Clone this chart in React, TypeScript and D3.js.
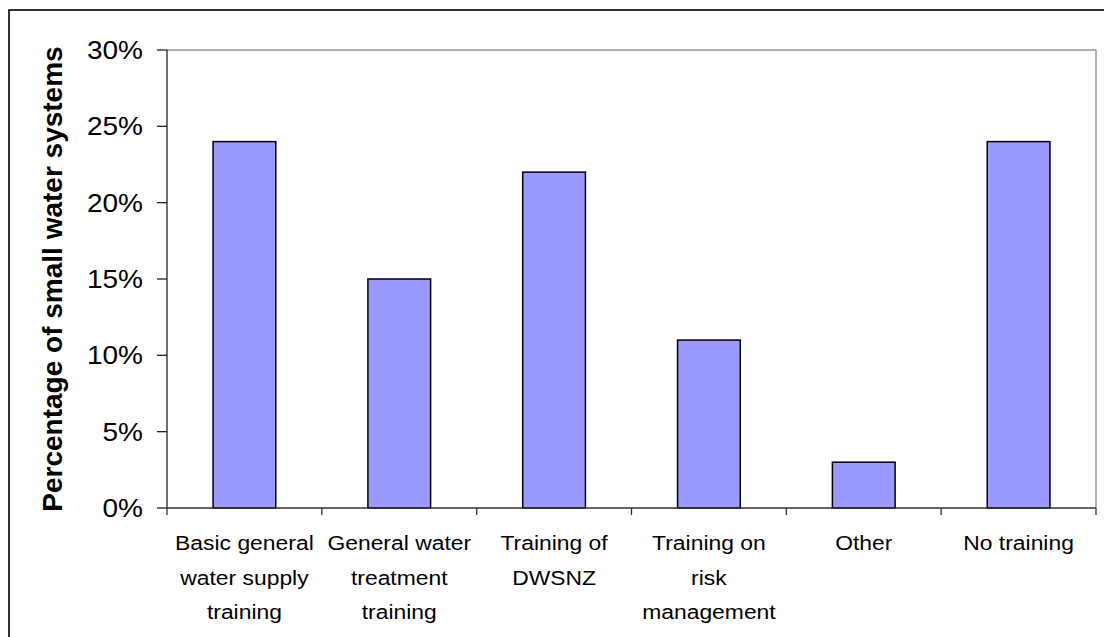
import React from "react";
import * as d3 from "d3";

const categories: string[][] = [
  ["Basic general", "water supply", "training"],
  ["General water", "treatment", "training"],
  ["Training of", "DWSNZ"],
  ["Training on", "risk", "management"],
  ["Other"],
  ["No training"],
];
const values: number[] = [24, 15, 22, 11, 3, 24];
const yTicks: number[] = [0, 5, 10, 15, 20, 25, 30];
const yTitle = "Percentage of small water systems";

const W = 1104;
const H = 637;
const plot = { left: 167, right: 1096, top: 50, bottom: 508 };

export default function App() {
  const keys = categories.map((_, i) => String(i));
  const x = d3.scaleBand<string>().domain(keys).range([plot.left, plot.right]).paddingInner(0).paddingOuter(0);
  const y = d3.scaleLinear().domain([0, 30]).range([plot.bottom, plot.top]);
  const bw = x.bandwidth();
  const barW = bw * 0.405;
  const font = "'Liberation Sans', Arial, sans-serif";
  const boundaries = keys.map((k) => x(k)!).concat([plot.right]);

  return (
    <svg width={W} height={H} style={{ position: "absolute", left: 0, top: 0, background: "#fff" }} fontFamily={font}>
      <rect x={0} y={0} width={W} height={H} fill="#fff" />
      {/* outer border */}
      <rect x={9} y={10} width={W + 20} height={H + 20} fill="none" stroke="#000" strokeWidth={1.6} />
      {/* plot frame */}
      <line x1={plot.left} x2={plot.right} y1={plot.top} y2={plot.top} stroke="#999" strokeWidth={1.5} />
      <line x1={plot.right} x2={plot.right} y1={plot.top} y2={plot.bottom} stroke="#999" strokeWidth={1.5} />
      {/* bars */}
      {values.map((v, i) => {
        const cx = x(keys[i])! + bw / 2;
        return (
          <rect
            key={i}
            x={cx - barW / 2}
            y={y(v)}
            width={barW}
            height={y(0) - y(v)}
            fill="#9999FF"
            stroke="#000"
            strokeWidth={1.5}
          />
        );
      })}
      {/* axes */}
      <line x1={plot.left} x2={plot.left} y1={plot.top} y2={plot.bottom} stroke="#222" strokeWidth={1.3} />
      <line x1={plot.left} x2={plot.right} y1={plot.bottom} y2={plot.bottom} stroke="#333" strokeWidth={1.3} />
      {yTicks.map((t) => (
        <g key={t}>
          <line x1={plot.left - 10} x2={plot.left} y1={y(t)} y2={y(t)} stroke="#222" strokeWidth={1.3} />
          <text
            transform={`translate(143,${y(t) + 9}) scale(1.12,1)`}
            textAnchor="end"
            fontSize={25}
            fill="#000"
          >
            {t}%
          </text>
        </g>
      ))}
      {boundaries.map((bx, i) => (
        <line key={i} x1={bx} x2={bx} y1={plot.bottom} y2={plot.bottom + 7} stroke="#333" strokeWidth={1.3} />
      ))}
      {categories.map((lines, i) => {
        const cx = x(keys[i])! + bw / 2;
        return lines.map((ln, j) => (
          <text
            key={`${i}-${j}`}
            transform={`translate(${cx},${550 + j * 34.5}) scale(1.09,1)`}
            textAnchor="middle"
            fontSize={21}
            fill="#000"
          >
            {ln}
          </text>
        ));
      })}
      <text
        transform={`translate(62,${(plot.top + plot.bottom) / 2}) rotate(-90)`}
        textAnchor="middle"
        fontSize={28}
        fontWeight="bold"
        fill="#000"
      >
        {yTitle}
      </text>
    </svg>
  );
}
